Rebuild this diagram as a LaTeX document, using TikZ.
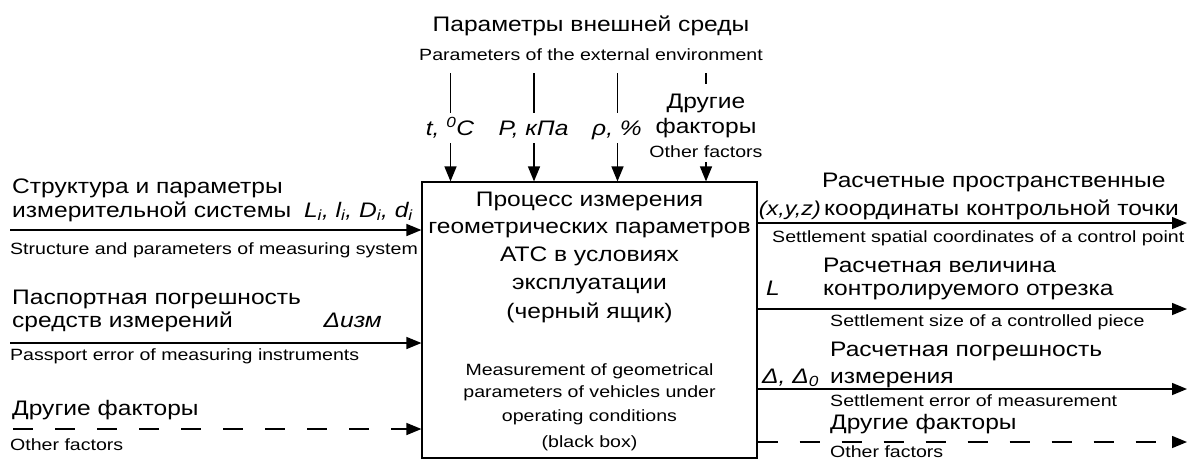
\documentclass[tikz,border=0pt]{standalone}
\usepackage{fontspec}
\setmainfont{Liberation Sans}[FakeStretch=1.17]
\newfontfamily\smallf{Liberation Sans}[FakeStretch=1.2]
\usetikzlibrary{arrows.meta}
\begin{document}
\begin{tikzpicture}[x=1pt,y=-1pt,
  big/.style={inner sep=0pt,font=\fontsize{21}{24}\selectfont},
  boxru/.style={inner sep=0pt,font=\fontsize{21}{24}\selectfont},
  small/.style={inner sep=0pt,font=\smallf\fontsize{16.3}{18}\selectfont},
  boxen/.style={inner sep=0pt,font=\smallf\fontsize{16.3}{18}\selectfont},
  ital/.style={inner sep=0pt,font=\fontsize{21}{24}\selectfont\itshape},
  conn/.style={line width=1.5pt},
  arr/.style={line width=1.5pt,-{Triangle[length=15pt,width=12pt]}},
  darr/.style={line width=1.5pt,dash pattern=on 20pt off 22pt,-{Triangle[length=15pt,width=12pt]}},
  blackbox/.style={draw,line width=1.2pt,minimum width=335pt,minimum height=276pt,inner sep=0pt}]
\useasboundingbox (0,0) rectangle (1189,459);

% black box
\node[blackbox] (box) at (589.5,320) {};
\node[boxru,anchor=base] (b1) at (589.5,206) {Процесс измерения};
\node[boxru,anchor=base] (b2) at (589.5,233.5) {геометрических параметров};
\node[boxru,anchor=base] (b3) at (589.5,261) {АТС в условиях};
\node[boxru,anchor=base] (b4) at (589.5,289.5) {эксплуатации};
\node[boxru,anchor=base] (b5) at (589.5,318) {(черный ящик)};
\node[boxen,anchor=base] (e1) at (589.5,375) {Measurement of geometrical};
\node[boxen,anchor=base] (e2) at (589.5,397.5) {parameters of vehicles under};
\node[boxen,anchor=base] (e3) at (589.5,421) {operating conditions};
\node[boxen,anchor=base] (e4) at (589.5,447) {(black box)};

% top
\node[big,anchor=base] (env) at (591,31.7) {Параметры внешней среды};
\node[small,anchor=base] (enven) at (591,60) {Parameters of the external environment};
\node[ital,anchor=base] (tC) at (450,135) {t, \textsuperscript{0}C};
\node[ital,anchor=base] (PkPa) at (533.5,135) {P, кПа};
\node[ital,anchor=base] (rho) at (617,135) {ρ, \%};
\node[big,anchor=base] (oth1) at (706,108) {Другие};
\node[big,anchor=base] (oth2) at (706,133) {факторы};
\node[small,anchor=base] (oth3) at (706,157) {Other factors};

\coordinate (t1) at (450.5,73);  \coordinate (t1b) at (450.5,113); \coordinate (t1c) at (450.5,143);
\coordinate (t2) at (534,73);    \coordinate (t2b) at (534,113);   \coordinate (t2c) at (534,143);
\coordinate (t3) at (617.5,73);  \coordinate (t3b) at (617.5,113); \coordinate (t3c) at (617.5,143);
\coordinate (t4) at (706,73);    \coordinate (t4b) at (706,84);    \coordinate (t4c) at (706,162);
\draw[conn] (t1) -- (t1b); \draw[arr] (t1c) -- (t1c |- box.north);
\draw[conn] (t2) -- (t2b); \draw[arr] (t2c) -- (t2c |- box.north);
\draw[conn] (t3) -- (t3b); \draw[arr] (t3c) -- (t3c |- box.north);
\draw[conn] (t4) -- (t4b); \draw[arr] (t4c) -- (t4c |- box.north);

% left inputs
\node[big,anchor=base west] (l1a) at (12,193) {Структура и параметры};
\node[big,anchor=base west] (l1b) at (12,217) {измерительной системы};
\node[ital,anchor=base east] (l1c) at (413,217) {L\textsubscript{i}, l\textsubscript{i}, D\textsubscript{i}, d\textsubscript{i}};
\node[small,anchor=base west] (l1d) at (10,254) {Structure and parameters of measuring system};
\coordinate (in1) at (10,230);
\draw[arr] (in1) -- (in1 -| box.west);

\node[big,anchor=base west] (l2a) at (12,304) {Паспортная погрешность};
\node[big,anchor=base west] (l2b) at (12,327) {средств измерений};
\node[ital,anchor=base east] (l2c) at (382,327) {Δизм};
\node[small,anchor=base west] (l2d) at (10,360) {Passport error of measuring instruments};
\coordinate (in2) at (10,343);
\draw[arr] (in2) -- (in2 -| box.west);

\node[big,anchor=base west] (l3a) at (12,415) {Другие факторы};
\node[small,anchor=base west] (l3d) at (10,450) {Other factors};
\coordinate (in3) at (13,429);
\draw[darr] (in3) -- (in3 -| box.west);

% right outputs
\coordinate (o1) at (1187,223);
\coordinate (o2) at (1187,309);
\coordinate (o3) at (1187,389);
\coordinate (o4) at (1187,442);
\draw[arr] (o1 -| box.east) -- (o1);
\draw[arr] (o2 -| box.east) -- (o2);
\draw[arr] (o3 -| box.east) -- (o3);
\draw[darr] (o4 -| box.east) -- (o4);

\node[big,anchor=base west] (r1a) at (822,187) {Расчетные пространственные};
\node[big,anchor=base west] (r1b) at (824,215) {координаты контрольной точки};
\node[ital,anchor=base east,font=\fontsize{20}{24}\selectfont\itshape] (r1c) at (821,215) {(x,y,z)};
\node[small,anchor=base west] (r1d) at (772,242) {Settlement spatial coordinates of a control point};

\node[big,anchor=base west] (r2a) at (823,272) {Расчетная величина};
\node[big,anchor=base west] (r2b) at (823,295) {контролируемого отрезка};
\node[ital,anchor=base west] (r2c) at (766,295) {L};
\node[small,anchor=base west] (r2d) at (830,326) {Settlement size of a controlled piece};

\node[big,anchor=base west] (r3a) at (830,356) {Расчетная погрешность};
\node[big,anchor=base west] (r3b) at (830,383) {измерения};
\node[ital,anchor=base west] (r3c) at (762,383) {Δ, Δ\textsubscript{0}};
\node[small,anchor=base west] (r3d) at (830,406) {Settlement error of measurement};

\node[big,anchor=base west] (r4a) at (830,429) {Другие факторы};
\node[small,anchor=base west] (r4d) at (830,457) {Other factors};
\end{tikzpicture}
\end{document}
